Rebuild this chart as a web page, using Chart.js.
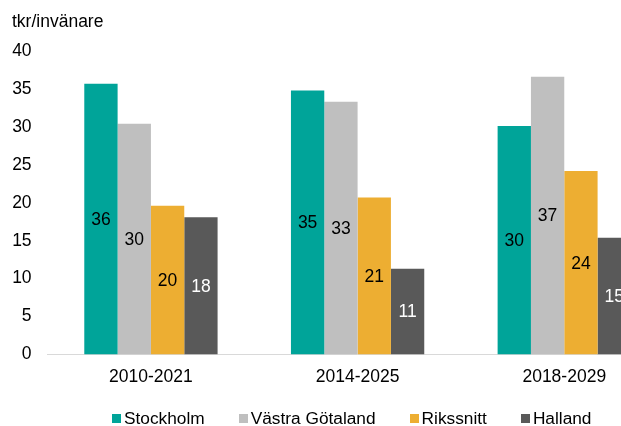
<!DOCTYPE html>
<html>
<head>
<meta charset="utf-8">
<script src="https://cdn.jsdelivr.net/npm/chart.js@4/dist/chart.umd.min.js"></script>
<style>
  html, body { margin: 0; padding: 0; background: #fff; overflow: hidden; width: 621px; height: 426px; }
  #wrap { position: absolute; left: 0; top: 0; width: 690px; height: 426px; }
  #legend { position: absolute; left: 112px; top: 408px; display: flex; align-items: center;
            font-family: "Liberation Sans", Arial, Helvetica, sans-serif; font-size: 17.3px; line-height: 20px; color: #000; white-space: nowrap; }
  .item { display: flex; align-items: center; margin-right: 34px; }
  .sw { width: 9px; height: 9px; margin-right: 3px; }
</style>
</head>
<body>
<div id="wrap"><canvas id="c"></canvas></div>
<div id="legend"></div>
<script>
const categories = ["2010-2021", "2014-2025", "2018-2029"];
const seriesNames = ["Stockholm", "Västra Götaland", "Rikssnitt", "Halland"];
const stockholm = [35.7, 34.8, 30.1];
const vastraGotaland = [30.4, 33.3, 36.6];
const rikssnitt = [19.6, 20.7, 24.2];
const halland = [18.1, 11.3, 15.4];
const yTicks = [0, 5, 10, 15, 20, 25, 30, 35, 40];
const colors = ["#00A499", "#BFBFBF", "#EDAE32", "#595959"];
const labelColors = ["#000000", "#000000", "#000000", "#FFFFFF"];
const unitTitle = "tkr/invänare";

const FONT = "'Liberation Sans', Arial, Helvetica, sans-serif";
const FS = 17.5;
const allSeries = [stockholm, vastraGotaland, rikssnitt, halland];

const valueLabels = {
  id: 'valueLabels',
  afterDatasetsDraw(chart) {
    const ctx = chart.ctx;
    ctx.save();
    ctx.font = FS + "px " + FONT;
    ctx.textAlign = 'center';
    ctx.textBaseline = 'middle';
    chart.data.datasets.forEach((ds, i) => {
      const meta = chart.getDatasetMeta(i);
      meta.data.forEach((bar, j) => {
        const v = ds.data[j];
        ctx.fillStyle = labelColors[i];
        ctx.fillText(String(Math.round(v)), bar.x, (bar.y + bar.base) / 2 + 1);
      });
    });
    ctx.restore();
  }
};

new Chart(document.getElementById('c'), {
  type: 'bar',
  data: {
    labels: categories,
    datasets: allSeries.map((d, i) => ({
      label: seriesNames[i],
      data: d,
      backgroundColor: colors[i],
      borderWidth: 0,
      barPercentage: 1.0,
      categoryPercentage: 0.645
    }))
  },
  options: {
    responsive: true,
    maintainAspectRatio: false,
    animation: false,
    devicePixelRatio: 1,
    layout: { padding: { left: 12, right: 22.4, top: 0, bottom: 26.5 } },
    plugins: {
      legend: { display: false },
      tooltip: { enabled: false },
      title: {
        display: true,
        text: unitTitle,
        align: 'start',
        color: '#000',
        font: { family: FONT, size: FS, weight: 'normal', lineHeight: 1.2 },
        padding: { top: 11.5, bottom: 18.5 }
      }
    },
    scales: {
      x: {
        grid: { display: false, drawTicks: false },
        border: { display: true, color: '#D9D9D9', width: 1 },
        ticks: { color: '#000', font: { family: FONT, size: FS }, padding: 12, maxRotation: 0 }
      },
      y: {
        min: 0, max: 40,
        afterBuildTicks(axis) { axis.ticks = yTicks.map(v => ({ value: v })); },
        afterFit(axis) { axis.width = 35.6; },
        grid: { display: false, drawTicks: false },
        border: { display: false },
        ticks: { color: '#000', font: { family: FONT, size: FS }, padding: 16 }
      }
    }
  },
  plugins: [valueLabels]
});

const leg = document.getElementById('legend');
seriesNames.forEach((n, i) => {
  const it = document.createElement('div');
  it.className = 'item';
  const sw = document.createElement('span');
  sw.className = 'sw';
  sw.style.background = colors[i];
  const tx = document.createElement('span');
  tx.textContent = n;
  it.appendChild(sw); it.appendChild(tx);
  leg.appendChild(it);
});
</script>
</body>
</html>
